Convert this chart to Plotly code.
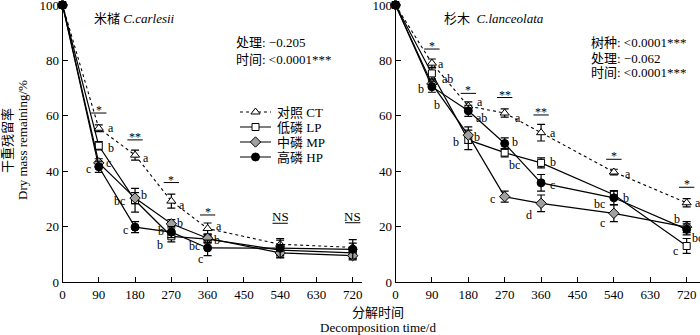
import plotly.graph_objects as go

# ---------------- data ----------------
days = [0, 90, 180, 270, 360, 540, 720]
tick_days = [0, 90, 180, 270, 360, 450, 540, 630, 720]
y_ticks = [0, 20, 40, 60, 80, 100]

series_names = ["对照 CT", "低磷 LP", "中磷 MP", "高磷 HP"]

# 米槠 C.carlesii
ct_l = [100, 55.5, 45.8, 29.2, 19.3, 13.6, 12.5]
lp_l = [100, 49.2, 29.5, 16.5, 15.5, 11.5, 10.5]
mp_l = [100, 43.0, 30.3, 21.0, 15.8, 10.5, 9.5]
hp_l = [100, 41.6, 19.8, 18.0, 12.3, 12.2, 11.8]
ct_l_err = [0, 1.2, 1.8, 2.5, 2.0, 1.5, 1.5]
lp_l_err = [0, 1.5, 4.3, 2.0, 1.5, 2.0, 2.0]
mp_l_err = [0, 1.5, 2.0, 1.5, 1.5, 1.5, 1.5]
hp_l_err = [0, 2.0, 2.0, 2.0, 2.8, 3.5, 3.5]

# 杉木 C.lanceolata
ct_r = [100, 79.0, 63.5, 61.0, 53.9, 39.7, 28.6]
lp_r = [100, 75.3, 51.3, 46.7, 43.0, 31.5, 13.0]
mp_r = [100, 71.5, 53.0, 30.8, 28.4, 24.8, 19.8]
hp_r = [100, 70.5, 61.8, 50.0, 35.8, 30.4, 19.0]
ct_r_err = [0, 1.5, 1.5, 1.5, 3.0, 1.0, 1.5]
lp_r_err = [0, 2.0, 3.5, 1.5, 1.8, 1.5, 2.7]
mp_r_err = [0, 1.5, 3.0, 2.0, 3.0, 3.0, 2.0]
hp_r_err = [0, 2.0, 2.0, 2.0, 3.0, 2.5, 2.0]

# significance marks above each sampling time
sig_days = [90, 180, 270, 360, 540, 720]
sig_l_text = ["*", "**", "*", "*", "NS", "NS"]
sig_l_y = [61.0, 51.3, 35.9, 24.2, 21.2, 21.4]
sig_r_text = ["*", "*", "**", "**", "*", "*"]
sig_r_y = [84.1, 68.1, 66.6, 60.3, 44.3, 34.2]

# multiple-comparison letters: (day, series, letter)
letters_l = [
    (90, "CT", "a"), (90, "LP", "b"), (90, "MP", "c"), (90, "HP", "c"),
    (180, "CT", "a"), (180, "MP", "b"), (180, "LP", "bc"), (180, "HP", "c"),
    (270, "CT", "a"), (270, "MP", "b"), (270, "HP", "b"), (270, "LP", "b"),
    (360, "CT", "a"), (360, "MP", "b"), (360, "LP", "bc"), (360, "HP", "c"),
]
letters_r = [
    (90, "CT", "a"), (90, "LP", "ab"), (90, "HP", "b"), (90, "MP", "b"),
    (180, "CT", "a"), (180, "HP", "ab"), (180, "MP", "b"), (180, "LP", "b"),
    (270, "CT", "a"), (270, "HP", "b"), (270, "LP", "bc"), (270, "MP", "c"),
    (360, "CT", "a"), (360, "LP", "b"), (360, "HP", "c"), (360, "MP", "d"),
    (540, "CT", "a"), (540, "HP", "b"), (540, "LP", "bc"), (540, "MP", "c"),
    (720, "CT", "a"), (720, "MP", "b"), (720, "HP", "bc"), (720, "LP", "c"),
]
# label offsets in pixels (dx right, dy down), purely presentational
offs_l = [(11, 0), (11, 2), (9, 0), (-10, 2),
          (10, 3), (8, -3), (-12, 1), (-9, 3),
          (10, 4), (8, -1), (-9, -1), (-10, 9),
          (10, -3), (8, 2), (-10, 7), (-7, 11)]
offs_r = [(8, 1), (12, 6), (-10, 2), (4, 21),
          (11, -4), (10, 7), (8, 2), (-11, 2),
          (12, 5), (9, -2), (6, 12), (-12, 2),
          (11, 0), (11, -1), (11, 2), (-11, 12),
          (13, 2), (11, 0), (-11, 9), (-11, 10),
          (10, 0), (-9, -8), (7, 9), (-11, 5)]

FONT = "Liberation Serif, Noto Sans CJK SC, serif"
BLACK = "#000000"

fig = go.Figure()

styles = {
    "CT": dict(symbol="triangle-up", color="white", size=8, dash="dot"),
    "LP": dict(symbol="square", color="white", size=7, dash="solid"),
    "MP": dict(symbol="diamond", color="#a0a0a0", size=8, dash="solid"),
    "HP": dict(symbol="circle", color="black", size=8, dash="solid"),
}
keys = ["CT", "LP", "MP", "HP"]
left_vals = {"CT": ct_l, "LP": lp_l, "MP": mp_l, "HP": hp_l}
left_errs = {"CT": ct_l_err, "LP": lp_l_err, "MP": mp_l_err, "HP": hp_l_err}
right_vals = {"CT": ct_r, "LP": lp_r, "MP": mp_r, "HP": hp_r}
right_errs = {"CT": ct_r_err, "LP": lp_r_err, "MP": mp_r_err, "HP": hp_r_err}


def line_style(k):
    return dict(color=BLACK, width=1.2 if k != "CT" else 1.1, dash=styles[k]["dash"])


def marker_style(k):
    st = styles[k]
    return dict(symbol=st["symbol"], size=st["size"], color=st["color"],
                line=dict(color=BLACK, width=1))


for panel, vals, errs, xa, ya in [("L", left_vals, left_errs, "x", "y"),
                                   ("R", right_vals, right_errs, "x2", "y2")]:
    for k, name in zip(keys, series_names):
        fig.add_trace(go.Scatter(
            x=days, y=vals[k], xaxis=xa, yaxis=ya, name=name,
            mode="lines+markers", showlegend=False,
            line=line_style(k), marker=marker_style(k),
            error_y=dict(type="data", array=errs[k], visible=True,
                         color=BLACK, thickness=1.2, width=4),
            cliponaxis=False,
        ))

# legend samples drawn on a small auxiliary axis pair (rows 0..3)
for i, k in enumerate(keys):
    fig.add_trace(go.Scatter(x=[0, 1], y=[i, i], xaxis="x3", yaxis="y3", mode="lines",
                             line=line_style(k), showlegend=False, hoverinfo="skip",
                             cliponaxis=False))
    fig.add_trace(go.Scatter(x=[0.5], y=[i], xaxis="x3", yaxis="y3", mode="markers",
                             marker=marker_style(k), showlegend=False, hoverinfo="skip",
                             cliponaxis=False))

# significance bars
half = 19
for sd, sy, xa, ya in [(sig_days, sig_l_y, "x", "y"), (sig_days, sig_r_y, "x2", "y2")]:
    xs, ys = [], []
    for d, yv in zip(sd, sy):
        xs += [d - half, d + half, None]
        ys += [yv, yv, None]
    fig.add_trace(go.Scatter(x=xs, y=ys, xaxis=xa, yaxis=ya, mode="lines",
                             line=dict(color=BLACK, width=1), showlegend=False,
                             hoverinfo="skip", cliponaxis=False))

annotations = []
for sd, st_, sy, xr, yr in [(sig_days, sig_l_text, sig_l_y, "x", "y"),
                            (sig_days, sig_r_text, sig_r_y, "x2", "y2")]:
    for d, t, yv in zip(sd, st_, sy):
        annotations.append(dict(x=d, y=yv, xref=xr, yref=yr, text=t, showarrow=False,
                                xanchor="center", yanchor="bottom",
                                yshift=(-3 if t == "NS" else -6),
                                font=dict(size=13 if t == "NS" else 12, family=FONT, color=BLACK)))

for letters, offs, vals, xr, yr in [(letters_l, offs_l, left_vals, "x", "y"),
                                    (letters_r, offs_r, right_vals, "x2", "y2")]:
    for (d, k, lt), (dx, dy) in zip(letters, offs):
        yv = vals[k][days.index(d)]
        annotations.append(dict(x=d, y=yv, xref=xr, yref=yr, text=lt, showarrow=False,
                                xanchor="left" if dx > 0 else "right", yanchor="middle",
                                xshift=(dx - 4 if dx > 0 else dx + 4), yshift=-dy,
                                font=dict(size=12, family=FONT, color=BLACK)))

W, H = 700, 335
ML, MR, MT, MB = 62, 0, 5, 53
PW, PH = W - ML - MR, H - MT - MB


def px(xp):
    return (xp - ML) / PW


def py(yp):
    return (H - MB - yp) / PH


def txt(x, y, s, anchor="left", size=13, angle=0):
    annotations.append(dict(x=px(x), y=py(y), xref="paper", yref="paper", text=s,
                            showarrow=False, xanchor=anchor, yanchor="middle",
                            textangle=angle, font=dict(size=size, family=FONT, color=BLACK)))


# legend labels
for i, name in enumerate(series_names):
    annotations.append(dict(x=px(275), y=i, xref="paper", yref="y3", text=name,
                            showarrow=False, xanchor="left", yanchor="middle",
                            font=dict(size=13, family=FONT, color=BLACK)))

txt(92, 18, "米槠 <i>C.carlesii</i>")
txt(442, 18, "杉木  <i>C.lanceolata</i>")
txt(234, 43, "处理: −0.205")
txt(234, 59, "时间: &lt;0.0001***")
txt(589, 42, "树种: &lt;0.0001***")
txt(589, 58, "处理: −0.062")
txt(589, 72, "时间: &lt;0.0001***")
txt(7, 140, "干重残留率", anchor="center", angle=-90)
txt(22, 140, "Dry mass remaining/%", anchor="center", angle=-90)
txt(378, 312, "分解时间", anchor="center")
txt(378, 327, "Decomposition time/d", anchor="center")

axis_common = dict(showgrid=False, zeroline=False, showline=True, linecolor=BLACK,
                   linewidth=1, ticks="inside", ticklen=5, tickcolor=BLACK,
                   ticklabeloverflow="allow",
                   tickfont=dict(size=13, family=FONT, color=BLACK))

fig.update_layout(
    template="none",
    width=W, height=H,
    margin=dict(l=ML, r=MR, t=MT, b=MB),
    paper_bgcolor="white", plot_bgcolor="white",
    font=dict(family=FONT, color=BLACK),
    showlegend=False,
    annotations=annotations,
    xaxis=dict(domain=[px(62.5), px(362)], range=[0, 743], tickvals=tick_days,
               anchor="y", **axis_common),
    yaxis=dict(domain=[0, 1], range=[0, 100], tickvals=y_ticks, anchor="x", **axis_common),
    xaxis2=dict(domain=[px(395.5), 1.0], range=[0, 753], tickvals=tick_days,
                anchor="y2", **axis_common),
    yaxis2=dict(domain=[0, 1], range=[0, 100], tickvals=y_ticks, anchor="x2", **axis_common),
    xaxis3=dict(domain=[px(240), px(271)], range=[0, 1], visible=False, anchor="y3",
                fixedrange=True),
    yaxis3=dict(domain=[py(164.5), py(104.5)], range=[3.5, -0.5], visible=False,
                anchor="x3", fixedrange=True),
)

fig.write_html("out.html")
